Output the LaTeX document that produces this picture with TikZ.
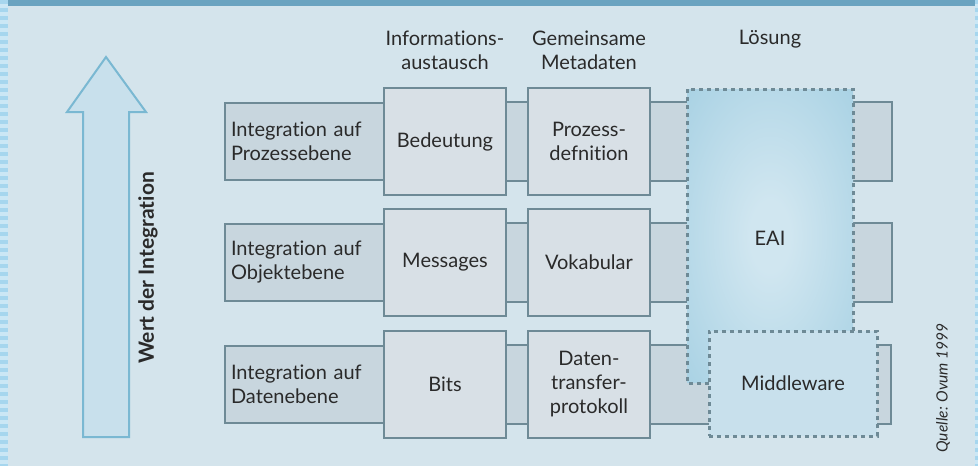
\documentclass[tikz,border=0pt]{standalone}
\usepackage{fontspec}
\setmainfont{Lato}[Ligatures={NoCommon}]
\definecolor{bg}{HTML}{D4E4EC}
\definecolor{barblue}{HTML}{6AA3C0}
\definecolor{stripeA}{HTML}{A6D6EE}
\definecolor{stripeB}{HTML}{CBE7F5}
\definecolor{bordc}{HTML}{6E8A96}
\definecolor{leftfill}{HTML}{C8D6DE}
\definecolor{bigfill}{HTML}{D8E0E6}
\definecolor{arrowline}{HTML}{7AB8D2}
\definecolor{arrowfill}{HTML}{C8E0EC}
\definecolor{mwfill}{HTML}{C8E0EC}
\definecolor{eaiin}{HTML}{D0E6F0}
\definecolor{eaiout}{HTML}{96C8DE}
\definecolor{txt}{HTML}{2A2A2A}
\pgfdeclareradialshading{eaishade}{\pgfpoint{0bp}{0bp}}{color(0bp)=(eaiin); color(6bp)=(eaiin); color(50bp)=(eaiout)}
\begin{document}
\begin{tikzpicture}[x=1pt,y=-1pt,
  every node/.style={text=txt, font=\fontsize{20}{24}\selectfont},
  leftbox/.style={draw=bordc, line width=2pt, fill=leftfill, minimum width=159pt, minimum height=77pt, text width=147pt, align=left, inner sep=0pt},
  bigbox/.style={draw=bordc, line width=2pt, fill=bigfill, minimum width=122pt, minimum height=107pt, align=center, inner sep=0pt},
  barbox/.style={draw=bordc, line width=2pt, fill=leftfill},
  dotline/.style={draw=bordc, line width=3pt, dash pattern=on 4pt off 4pt},
  header/.style={align=center, inner sep=0pt}
]
\useasboundingbox (0,0) rectangle (978,466);
\fill[bg] (0,0) rectangle (978,466);
\fill[barblue] (8,0) rectangle (975,6);
\foreach \i in {0,...,58} {
  \fill[stripeA] (0,\i*8) rectangle (8,\i*8+4);
  \fill[stripeB] (0,\i*8+4) rectangle (8,\i*8+8);
  \fill[stripeA] (975,\i*8) rectangle (978,\i*8+4);
  \fill[stripeB] (975,\i*8+4) rectangle (978,\i*8+8);
}
% arrow
\draw[arrowline, line width=2pt, fill=arrowfill, line join=miter]
  (106,57) -- (146,112) -- (129,112) -- (129,437) -- (83,437) -- (83,112) -- (67,112) -- cycle;
\node[rotate=90, font=\fontsize{21}{24}\selectfont\bfseries] (wert) at (148,268) {Wert der Integration};
% headers
\node[header] (h1) at (445,50) {Informations-\\austausch};
\node[header] (h2) at (589,50) {Gemeinsame\\Metadaten};
\node[header] (h3) at (770,39) {Lösung};
% right ends
\coordinate (E1) at (892,103);
\coordinate (E2) at (892,224);
\coordinate (E3) at (891,346);
% row 1
\node[leftbox] (L1) at (304.5,141.5) {Integration auf\\Prozessebene};
\draw[barbox] (L1.north east) rectangle (E1 |- L1.south);
\node[bigbox] (A1) at (445,141.5) {Bedeutung};
\node[bigbox] (B1) at (589,141.5) {Prozess-\\defnition};
% row 2
\node[leftbox] (L2) at (304.5,262.5) {Integration auf\\Objektebene};
\draw[barbox] (L2.north east) rectangle (E2 |- L2.south);
\node[bigbox] (A2) at (445,262.5) {Messages};
\node[bigbox] (B2) at (589,262.5) {Vokabular};
% row 3
\node[leftbox] (L3) at (304.5,384) {Integration auf\\Datenebene};
\draw[barbox] (L3.north east) rectangle (E3 |- L3.south);
\node[bigbox] (A3) at (445,384) {Bits};
\node[bigbox] (B3) at (589,384) {Daten-\\transfer-\\protokoll};
% EAI
\shade[shading=eaishade] (687,89) -- (853,89) -- (853,331) -- (709,331) -- (709,383) -- (687,383) -- cycle;
\draw[dotline] (709,383) -- (687,383) -- (687,89) -- (853,89) -- (853,331);
\node (eai) at (770,238) {EAI};
% Middleware
\node[dotline, fill=mwfill, minimum width=168pt, minimum height=105pt, inner sep=0pt] (mw) at (793,383.5) {Middleware};
% source
\node[rotate=90, font=\fontsize{15.5}{18}\selectfont\itshape] (src) at (943,388) {Quelle: Ovum 1999};
\end{tikzpicture}
\end{document}
